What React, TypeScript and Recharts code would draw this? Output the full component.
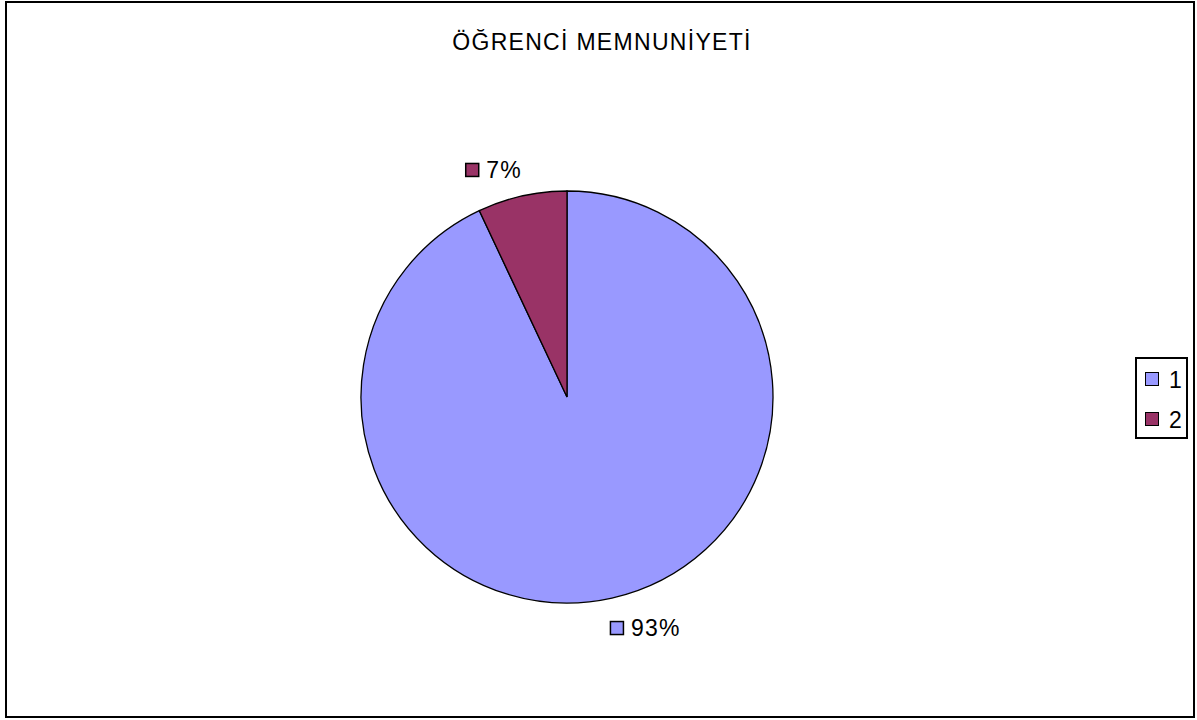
import { PieChart, Pie, Cell, Legend } from 'recharts';

const categories = ['1', '2'];
const satisfaction = [93, 7];
const sliceColors = ['#9999FF', '#993366'];
const chartTitle = 'ÖĞRENCİ MEMNUNİYETİ';

const data = categories.map((name, i) => ({ name, value: satisfaction[i] }));

const RADIAN = Math.PI / 180;
const FONT = '"Liberation Sans", Arial, sans-serif';
const FS = 23;
const LS = 1.3;

const textWidth = (s: string) =>
  s.split('').reduce((w, ch) => w + (ch === '%' ? 0.889 : 0.556) * FS + LS, 0);

const renderLabel = (props: any) => {
  const { cx, cy, midAngle, outerRadius, percent, index } = props;
  const cos = Math.cos(-midAngle * RADIAN);
  const sin = Math.sin(-midAngle * RADIAN);
  const px = cx + outerRadius * cos;
  const py = cy + outerRadius * sin;
  const text = `${Math.round(percent * 100)}%`;
  const w = 14 + 7 + textWidth(text);
  // excel style: label box hangs off the slice edge
  const left = cos < 0 ? px - w : px - 2;
  const top = sin < 0 ? py - 33 : py + 23;
  return (
    <g>
      <rect x={left + 0.5} y={top + 0.5} width={13} height={13} fill={sliceColors[index]} stroke="#000" strokeWidth={1.5} />
      <text x={left + 21} y={top + 15} fontSize={FS} letterSpacing={LS} fontFamily={FONT} fill="#000">
        {text}
      </text>
    </g>
  );
};

const renderLegend = (props: any) => {
  const { payload } = props;
  return (
    <div
      style={{
        position: 'relative',
        border: '2px solid #000',
        width: 53,
        height: 82,
        boxSizing: 'border-box',
        fontFamily: FONT,
        fontSize: FS,
        background: '#fff',
      }}
    >
      {payload.map((entry: any, i: number) => (
        <div key={`leg-${i}`}>
          <span
            style={{
              position: 'absolute',
              left: 8,
              top: 13 + i * 40,
              width: 14,
              height: 14,
              background: sliceColors[i],
              border: '1.5px solid #000',
              boxSizing: 'border-box',
            }}
          />
          <span style={{ position: 'absolute', left: 32, top: 10 + i * 40, lineHeight: '23px' }}>
            {entry.value}
          </span>
        </div>
      ))}
    </div>
  );
};

export default function App() {
  return (
    <div style={{ position: 'absolute', left: 0, top: 0, width: 1197, height: 720, background: '#fff' }}>
      <div
        style={{
          position: 'absolute',
          left: 5,
          top: 1,
          width: 1190,
          height: 717,
          border: '2px solid #000',
          boxSizing: 'border-box',
        }}
      />
      <div
        style={{
          position: 'absolute',
          left: 0,
          top: 31,
          width: 1204,
          textAlign: 'center',
          fontFamily: FONT,
          fontSize: FS,
          letterSpacing: LS,
          lineHeight: '23px',
        }}
      >
        {chartTitle}
      </div>
      <PieChart
        width={1197}
        height={720}
        margin={{ top: 0, right: 0, bottom: 0, left: 0 }}
        style={{ position: 'absolute', left: 0, top: 0 }}
      >
        <Pie
          data={data}
          dataKey="value"
          nameKey="name"
          cx={567}
          cy={397}
          outerRadius={206}
          startAngle={90}
          endAngle={-270}
          stroke="#000"
          strokeWidth={1.3}
          label={renderLabel}
          labelLine={false}
          isAnimationActive={false}
        >
          {data.map((entry, i) => (
            <Cell key={`cell-${i}`} fill={sliceColors[i]} />
          ))}
        </Pie>
        <Legend
          content={renderLegend}
          wrapperStyle={{ position: 'absolute', left: 1135, top: 357, width: 53, height: 82 }}
        />
      </PieChart>
    </div>
  );
}
